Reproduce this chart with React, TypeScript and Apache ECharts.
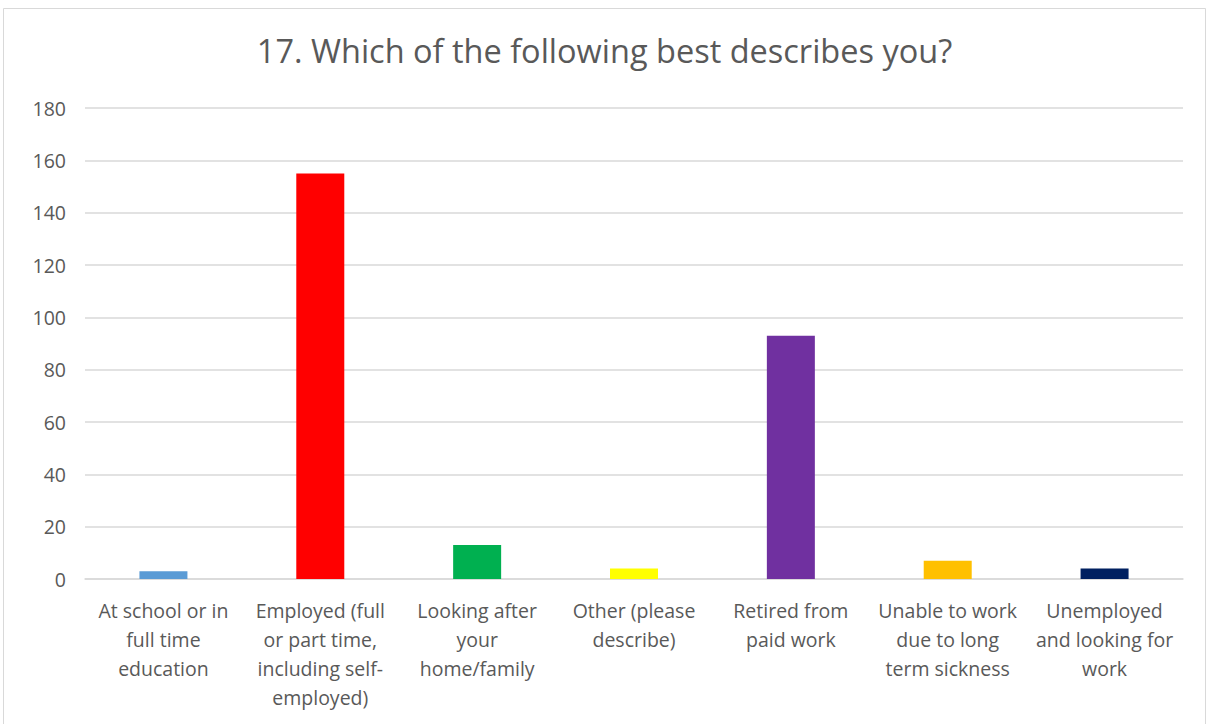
import React, { useEffect, useRef } from "react";
import * as echarts from "echarts";

const categories = [
  "At school or in\nfull time\neducation",
  "Employed (full\nor part time,\nincluding self-\nemployed)",
  "Looking after\nyour\nhome/family",
  "Other (please\ndescribe)",
  "Retired from\npaid work",
  "Unable to work\ndue to long\nterm sickness",
  "Unemployed\nand looking for\nwork",
];
const values = [3, 155, 13, 4, 93, 7, 4];
const colors = ["#5B9BD5", "#FF0000", "#00B050", "#FFFF00", "#7030A0", "#FFC000", "#002060"];
const title = "17. Which of the following best describes you?";

export default function App() {
  const ref = useRef<HTMLDivElement>(null);
  useEffect(() => {
    document.body.style.margin = "0";
    const chart = echarts.init(ref.current!, null, { renderer: "svg" });
    chart.setOption({
      animation: false,
      backgroundColor: "#ffffff",
      textStyle: { fontFamily: "Open Sans" },
      title: {
        text: title,
        left: "center",
        top: 29,
        textStyle: { fontSize: 32.5, fontWeight: "normal", color: "#595959", fontFamily: "Open Sans" },
      },
      graphic: [
        {
          type: "rect",
          shape: { x: 3.5, y: 8.5, width: 1202, height: 730 },
          style: { fill: "none", stroke: "#d9d9d9", lineWidth: 1 },
          silent: true,
        },
      ],
      grid: { left: 85, right: 26, top: 108, bottom: 145, containLabel: false },
      xAxis: {
        type: "category",
        data: categories,
        axisLine: { lineStyle: { color: "#d9d9d9", width: 1.5 } },
        axisTick: { show: false },
        axisLabel: {
          color: "#595959",
          fontSize: 19.5,
          lineHeight: 29,
          margin: 17,
          interval: 0,
          fontFamily: "Open Sans",
        },
      },
      yAxis: {
        type: "value",
        min: 0,
        max: 180,
        interval: 20,
        axisLine: { show: false },
        axisTick: { show: false },
        splitLine: { lineStyle: { color: "#d9d9d9", width: 1.5 } },
        axisLabel: { color: "#595959", fontSize: 19.5, margin: 19, fontFamily: "Open Sans" },
      },
      series: [
        {
          type: "bar",
          barWidth: 48,
          data: values.map((v, i) => ({ value: v, itemStyle: { color: colors[i] } })),
        },
      ],
    });
    return () => chart.dispose();
  }, []);
  return <div ref={ref} style={{ width: 1209, height: 724 }} />;
}
